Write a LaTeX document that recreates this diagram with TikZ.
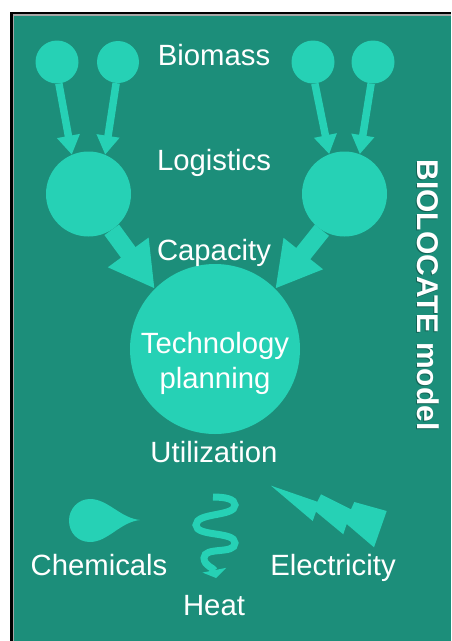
\documentclass[tikz,border=0pt]{standalone}
\usepackage{fontspec}
\setmainfont{Liberation Sans}
\usetikzlibrary{arrows.meta}
\definecolor{panelgreen}{RGB}{28,142,122}
\definecolor{mint}{RGB}{38,209,181}
\definecolor{shadowgreen}{RGB}{20,100,86}
\tikzset{
  blob/.style={circle,fill=mint,inner sep=0pt},
  lbl/.style={text=white,anchor=base,inner sep=0pt},
  feed/.style={draw=mint,line width=7.5pt,-{Triangle[length=19pt,width=22pt]}},
  bigfeed/.style={draw=mint,line width=18pt,-{Triangle[length=45pt,width=47pt]}}
}
\begin{document}
\begin{tikzpicture}[x=1pt,y=-1pt,font=\fontsize{29.3}{35}\selectfont]
    \useasboundingbox (0,0) rectangle (451,641);
    \fill[white] (0,0) rectangle (451,641);
    \fill[black] (9.5,11.5) rectangle (451,641);
    \fill[gray!70] (12.5,14) rectangle (451,641);
    \fill[panelgreen] (14,15.5) rectangle (451,641);
    % circles
    \node[blob,minimum size=43pt] (biomassA) at (57,62) {};
    \node[blob,minimum size=42pt] (biomassB) at (118,62) {};
    \node[blob,minimum size=43pt] (biomassC) at (313,62) {};
    \node[blob,minimum size=43pt] (biomassD) at (373,62) {};
    \node[blob,minimum size=85pt] (logisticsL) at (88.5,194) {};
    \node[blob,minimum size=85pt] (logisticsR) at (344.5,194) {};
    \node[blob,minimum size=170pt] (planning) at (215,349) {};
    % arrows
    \draw[feed] (biomassA.-85) -- (logisticsL.113);
    \draw[feed] (biomassB.-95) -- (logisticsL.67);
    \draw[feed] (biomassC.-85) -- (logisticsR.111);
    \draw[feed] (biomassD.-95) -- (logisticsR.69);
    \draw[bigfeed] (logisticsL.-57) -- (planning.135);
    \draw[bigfeed] (logisticsR.238) -- (planning.45);
    % labels
    \node[lbl] (biomasstext) at (214,65) {Biomass};
    \node[lbl] (logisticstext) at (214,170) {Logistics};
    \node[lbl] (capacitytext) at (214,260) {Capacity};
    \node[lbl] (techtext) at (215,353) {Technology};
    \node[lbl] (plantext) at (215,388) {planning};
    \node[lbl] (utiltext) at (214,462) {Utilization};
    \node[lbl] (chemtext) at (99,575) {Chemicals};
    \node[lbl] (electext) at (333,575) {Electricity};
    \node[lbl] (heattext) at (214,615.5) {Heat};
    \node[lbl,text=shadowgreen,rotate=-90,font=\fontsize{30}{36}\selectfont\bfseries] (modelshadow) at (416.5,296) {BIOLOCATE model};
    \node[lbl,rotate=-90,font=\fontsize{30}{36}\selectfont\bfseries] (modeltext) at (417.5,295) {BIOLOCATE model};
    % drop, steam and bolt
    \fill[mint] (140,520) .. controls (120,522) and (108,542) .. (90,542)
      .. controls (78,542) and (69,533) .. (69,520.5)
      .. controls (69,509) and (78,499) .. (90,499)
      .. controls (108,499) and (120,518) .. (140,520) -- cycle;
    \draw[mint,line width=7pt,-{Triangle[length=8pt,width=24pt]}] (213,497)
      .. controls (225,497) and (235,499) .. (235,505)
      .. controls (235,517) and (196,512) .. (196,525)
      .. controls (196,537) and (235,531) .. (235,543)
      .. controls (235,555) and (204,546) .. (204,558)
      .. controls (204,566) and (214,568) .. (216,578);
    \fill[mint] (271,485.7) -- (317.3,501.7) -- (321,494.3) -- (351,509.3) -- (354.3,502)
      -- (386.7,511) -- (374,547.3) -- (346.7,524) -- (343.3,534.3) -- (316,511.7)
      -- (312.7,521) -- cycle;
  \end{tikzpicture}
\end{document}
